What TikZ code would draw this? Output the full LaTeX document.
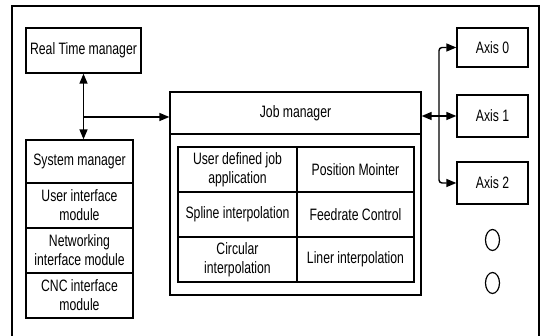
\documentclass[tikz,border=0pt]{standalone}
\usepackage{fontspec}
\setmainfont{Liberation Sans}[FakeStretch=0.74]
\usetikzlibrary{arrows.meta,shapes.geometric}

\tikzset{
  lbl/.style={font=\fontsize{16.5}{19}\selectfont, align=center, inner sep=0pt},
  box/.style={lbl, draw, line width=1.3pt, rectangle, anchor=center},
  oval/.style={draw, line width=1.2pt, ellipse, minimum width=14, minimum height=21, inner sep=0pt},
  wire/.style={line width=1.4pt},
  tip/.style={-{Triangle[length=10pt,width=8pt]}},
  tips/.style={{Triangle[length=10pt,width=8pt]}-{Triangle[length=10pt,width=8pt]}},
}

\begin{document}
\begin{tikzpicture}[x=1pt, y=-1pt]
\useasboundingbox (0,0) rectangle (544,336);
\clip (0,0) rectangle (544,336);

% outer frame (its lower edge lies below the page)
\draw[line width=1.1pt] (12,345) -- (12,6) -- (539,6) -- (539,345);

% real time manager
\node[box, minimum width=115, minimum height=45] (rt) at (83.5,50.5) {Real Time manager};

% system manager stack
\node[box, minimum width=107, minimum height=43] (sys1) at (79.5,161.5) {System manager};
\node[box, minimum width=107, minimum height=45] (sys2) at (79.5,205.5) {User interface\\module};
\node[box, minimum width=107, minimum height=45] (sys3) at (79.5,250.5) {Networking\\interface module};
\node[box, minimum width=107, minimum height=45] (sys4) at (79.5,295.5) {CNC interface\\module};

% job manager
\node[box, minimum width=251, minimum height=203] (job) at (295.5,193.5) {};
\node[box, minimum width=251, minimum height=42] (jobt) at (295.5,113) {Job manager};

\node[box, minimum width=119, minimum height=45] (c11) at (237.5,169.5) {User defined job\\application};
\node[box, minimum width=119, minimum height=45] (c21) at (237.5,214.5) {Spline interpolation};
\node[box, minimum width=119, minimum height=45] (c31) at (237.5,259.5) {Circular\\interpolation};
\node[box, minimum width=117, minimum height=45] (c12) at (355.5,169.5) {Position Mointer};
\node[box, minimum width=117, minimum height=45] (c22) at (355.5,214.5) {Feedrate Control};
\node[box, minimum width=117, minimum height=45] (c32) at (355.5,259.5) {Liner interpolation};

% axes
\node[box, minimum width=71, minimum height=39] (ax0) at (492.5,47.5) {Axis 0};
\node[box, minimum width=71, minimum height=42] (ax1) at (492.5,116) {Axis 1};
\node[box, minimum width=71, minimum height=42] (ax2) at (492.5,183) {Axis 2};
\node[oval] (dot1) at (492.5,240) {};
\node[oval] (dot2) at (492.5,283) {};

% connectors on the left
\coordinate (lj) at (83.5,117);
\draw[wire, tips] (rt.south) -- (rt.south |- sys1.north);
\draw[wire, tip] (lj) -- (lj -| job.west);

% connectors on the right
\coordinate (bus) at (439,116);
\draw[wire, tips] (job.east |- ax1.west) -- (ax1.west);
\draw[wire, tip, rounded corners=3pt] (bus) |- (ax0.west);
\draw[wire, tip, rounded corners=3pt] (bus) |- (ax2.west);
\end{tikzpicture}
\end{document}
